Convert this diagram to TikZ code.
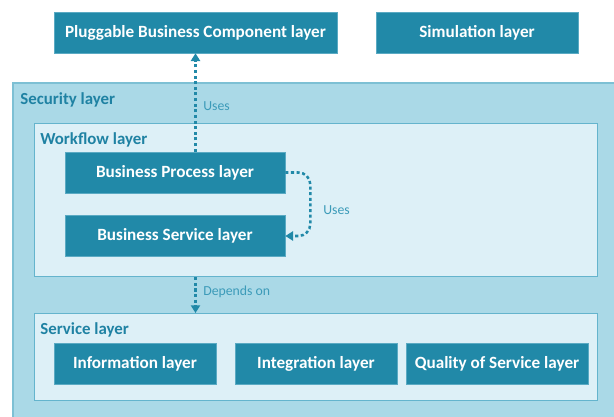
\documentclass[tikz,border=0pt]{standalone}
\usepackage{fontspec}
\setmainfont{Carlito}
\usetikzlibrary{arrows.meta}

\definecolor{boxblue}{RGB}{33,137,168}
\definecolor{boxedge}{RGB}{90,170,195}
\definecolor{outerfill}{RGB}{170,217,231}
\definecolor{outeredge}{RGB}{125,192,212}
\definecolor{innerfill}{RGB}{221,240,247}
\definecolor{inneredge}{RGB}{100,180,205}
\definecolor{titleblue}{RGB}{31,130,163}
\definecolor{notecol}{RGB}{60,155,185}

\tikzset{
  unit/.style={draw=boxedge, fill=boxblue, text=white, font=\fontsize{12.2}{14}\selectfont\bfseries,
    minimum height=1.025cm, inner sep=0pt},
  layerbox/.style={draw=inneredge, fill=innerfill, line width=0.8pt, anchor=north west, inner sep=0pt},
  layertitle/.style={anchor=west, text=titleblue, font=\fontsize{12}{14}\selectfont\bfseries, inner sep=0pt},
  note/.style={anchor=west, text=notecol, font=\fontsize{9.8}{11}\selectfont, inner sep=0pt},
  dep/.style={draw=boxblue, line width=1.8pt, dash pattern=on 2.2pt off 1.8pt,
    -{Triangle[width=6.5pt,length=5.5pt]}}
}

\begin{document}
\begin{tikzpicture}[x=0.025cm, y=-0.025cm]
    \useasboundingbox (0,0) rectangle (614,416);

    % top components
    \node[unit, minimum width=7.075cm] (plug) at (195.5,32.5) {Pluggable Business Component layer};
    \node[unit, minimum width=5.05cm] (sim) at (477,32.5) {Simulation layer};

    % Security layer
    \draw[draw=outeredge, fill=outerfill, line width=1pt] (13,83) rectangle (630,430);
    \node[layertitle] (sectitle) at (20,100) {Security layer};

    % Workflow layer
    \node[layerbox, minimum width=14.075cm, minimum height=3.825cm] (wf) at (34,123) {};
    \node[layertitle] (wftitle) at (40,140) {Workflow layer};
    \node[unit, minimum width=5.5cm] (bp) at (175,172.5) {Business Process layer};
    \node[unit, minimum width=5.5cm] (bs) at (175,236) {Business Service layer};

    % Service layer
    \node[layerbox, minimum width=14.075cm, minimum height=2.175cm] (svc) at (34,313) {};
    \node[layertitle] (svctitle) at (40,330) {Service layer};
    \node[unit, minimum width=4.05cm] (info) at (135,363.5) {Information layer};
    \node[unit, minimum width=4.05cm] (integ) at (316,363.5) {Integration layer};
    \node[unit, minimum width=4.55cm] (qos) at (497,363.5) {Quality of Service layer};

    % dependencies
    \draw[dep] (bp.north -| plug.south) -- (plug.south);
    \node[note] (uses1) at (203,106) {Uses};
    \draw[dep, rounded corners=0.3cm] (bp.east) -- ++(25,0) |- (bs.east);
    \node[note] (uses2) at (323,210) {Uses};
    \draw[dep] (wf.south -| plug.south) -- (svc.north -| plug.south);
    \node[note] (depon) at (203,292) {Depends on};
\end{tikzpicture}
\end{document}
